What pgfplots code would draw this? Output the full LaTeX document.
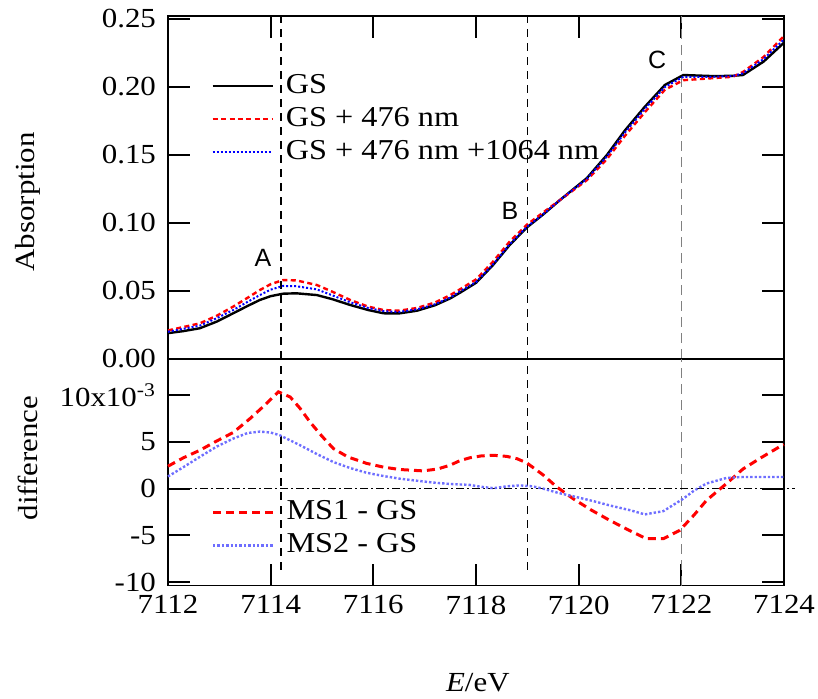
\documentclass[border=0pt]{standalone}
\usepackage{fontspec}
\setmainfont{Liberation Serif}[FakeStretch=1.12]
\newfontfamily\labfont{Liberation Sans}
\usepackage{pgfplots}
\pgfplotsset{compat=1.18}

\pgfplotstableread{
E A
7112.00 0.0190
7112.30 0.0205
7112.62 0.0226
7112.95 0.0275
7113.27 0.0336
7113.55 0.0390
7113.79 0.0434
7114.00 0.0462
7114.24 0.0480
7114.50 0.0483
7114.90 0.0470
7115.20 0.0440
7115.55 0.0397
7115.90 0.0360
7116.20 0.0336
7116.50 0.0335
7116.85 0.0355
7117.20 0.0395
7117.50 0.0446
7117.70 0.0490
7118.00 0.0560
7118.33 0.0690
7118.66 0.0840
7119.00 0.0970
7119.30 0.1060
7119.64 0.1170
7120.16 0.1330
7120.55 0.1500
7120.90 0.1680
7121.29 0.1855
7121.68 0.2015
7122.04 0.2088
7122.62 0.2080
7123.00 0.2082
7123.20 0.2088
7123.60 0.2186
7124.00 0.2326
}\gs

\pgfplotstableread{
E A
7112.00 0.0210
7112.30 0.0235
7112.62 0.0262
7112.95 0.0318
7113.27 0.0385
7113.55 0.0450
7113.79 0.0507
7114.00 0.0550
7114.24 0.0580
7114.50 0.0578
7114.90 0.0544
7115.20 0.0495
7115.55 0.0434
7115.90 0.0385
7116.20 0.0360
7116.50 0.0355
7116.85 0.0375
7117.20 0.0415
7117.50 0.0470
7117.70 0.0515
7118.00 0.0585
7118.33 0.0715
7118.66 0.0865
7119.00 0.0990
7119.30 0.1075
7119.64 0.1170
7120.16 0.1315
7120.55 0.1470
7120.90 0.1640
7121.29 0.1815
7121.68 0.1980
7122.04 0.2050
7122.62 0.2065
7123.00 0.2075
7123.20 0.2110
7123.60 0.2220
7124.00 0.2375
}\gsa

\pgfplotstableread{
E A
7112.00 0.0200
7112.30 0.0222
7112.62 0.0245
7112.95 0.0300
7113.27 0.0360
7113.55 0.0420
7113.79 0.0470
7114.00 0.0510
7114.24 0.0537
7114.50 0.0535
7114.90 0.0512
7115.20 0.0468
7115.55 0.0417
7115.90 0.0375
7116.20 0.0352
7116.50 0.0346
7116.85 0.0365
7117.20 0.0402
7117.50 0.0452
7117.70 0.0500
7118.00 0.0565
7118.33 0.0695
7118.66 0.0845
7119.00 0.0975
7119.30 0.1062
7119.64 0.1170
7120.16 0.1325
7120.55 0.1490
7120.90 0.1665
7121.29 0.1840
7121.68 0.2000
7122.04 0.2075
7122.62 0.2075
7123.00 0.2080
7123.20 0.2100
7123.60 0.2205
7124.00 0.2350
}\gsb

% differences, in units of 1e-3
\pgfplotstableread{
E d
7112.00 2.40
7112.30 3.30
7112.62 4.10
7112.95 5.10
7113.27 6.00
7113.60 7.50
7113.90 9.00
7114.15 10.35
7114.38 9.80
7114.57 8.60
7114.77 7.10
7115.00 5.60
7115.22 4.30
7115.50 3.40
7115.87 2.70
7116.20 2.30
7116.51 2.05
7116.97 1.90
7117.25 2.10
7117.49 2.50
7117.69 3.00
7117.88 3.30
7118.10 3.50
7118.34 3.57
7118.60 3.45
7118.80 3.20
7118.99 2.75
7119.30 1.50
7119.57 0.20
7119.90 -1.10
7120.25 -2.30
7120.61 -3.40
7121.00 -4.50
7121.32 -5.35
7121.65 -5.35
7121.97 -4.45
7122.25 -2.80
7122.49 -1.25
7122.88 0.55
7123.20 2.10
7123.55 3.30
7123.92 4.50
7124.00 4.70
}\msone

\pgfplotstableread{
E d
7112.00 1.30
7112.30 2.30
7112.62 3.40
7112.95 4.50
7113.27 5.35
7113.55 5.95
7113.79 6.10
7114.00 6.00
7114.18 5.70
7114.57 4.65
7114.90 3.70
7115.22 2.85
7115.55 2.20
7115.87 1.70
7116.20 1.35
7116.51 1.07
7116.85 0.85
7117.17 0.65
7117.50 0.50
7117.88 0.40
7118.10 0.20
7118.34 0.05
7118.60 0.25
7118.86 0.35
7119.10 0.25
7119.31 0.00
7119.60 -0.45
7119.96 -0.90
7120.30 -1.35
7120.61 -1.80
7121.00 -2.30
7121.29 -2.75
7121.65 -2.40
7122.03 -1.10
7122.25 -0.20
7122.49 0.55
7122.88 1.15
7123.20 1.25
7123.60 1.25
7124.00 1.25
}\mstwo

\definecolor{lightblue}{RGB}{110,110,255}

\begin{document}
\begin{tikzpicture}
\pgfplotsset{
  panel/.style={
    scale only axis, width=308pt, xmin=7112, xmax=7124,
    axis line style={line width=0.9pt},
    major tick length=11pt,
    xtick style={color=black, line width=1pt},
    ytick style={color=black, line width=1pt},
    xtick={7112,7114,7116,7118,7120,7122,7124},
    tick label style={font=\fontsize{13.8}{16}\selectfont,
      /pgf/number format/assume math mode=true},
    yticklabel style={xshift=-2.5pt},
    label style={font=\fontsize{13.8}{16}\selectfont},
    unbounded coords=jump,
    legend cell align=left,
    legend style={draw=none, fill=none, inner sep=0pt,
      font=\fontsize{14.4}{16}\selectfont,
      nodes={inner sep=1pt, text height=10pt, text depth=3pt},
      row sep=1.5pt, column sep=5pt},
    legend image code/.code={\draw[##1] (0pt,0pt) -- (30pt,0pt);},
  },
  tk/.style={color=black, solid, line width=1pt, forget plot},
}

% upper panel: absorption
\begin{axis}[panel, at={(0pt,113.3pt)}, anchor=south west, height=171.5pt,
  ymin=0, ymax=0.2522,
  ytick={0,0.05,0.1,0.15,0.2,0.25},
  yticklabel style={/pgf/number format/fixed, /pgf/number format/fixed zerofill,
    /pgf/number format/precision=2},
  xtick pos=upper, xticklabels={},
  ylabel={Absorption},
  ylabel style={at={(axis description cs:-0.227,0.458)}, anchor=center},
  legend style={at={(axis description cs:0.07,0.84)}, anchor=north west},
]
% inward tick marks (11pt long)
\addplot[tk] coordinates {(7114,0.2522) (7114,0.2360) (7114,nan)
  (7116,0.2522) (7116,0.2360) (7116,nan) (7118,0.2522) (7118,0.2360) (7118,nan)
  (7120,0.2522) (7120,0.2360) (7120,nan) (7122,0.2522) (7122,0.2360)};
\addplot[tk] coordinates {(7112,0.05) (7112.4286,0.05) (7112,nan)
  (7112,0.10) (7112.4286,0.10) (7112,nan) (7112,0.15) (7112.4286,0.15) (7112,nan)
  (7112,0.20) (7112.4286,0.20) (7112,nan) (7112,0.25) (7112.4286,0.25)};
\addplot[tk] coordinates {(7124,0.05) (7123.5714,0.05) (7124,nan)
  (7124,0.10) (7123.5714,0.10) (7124,nan) (7124,0.15) (7123.5714,0.15) (7124,nan)
  (7124,0.20) (7123.5714,0.20) (7124,nan) (7124,0.25) (7123.5714,0.25)};

\addplot[black, line width=0.6pt, dash pattern=on 4pt off 3pt, forget plot] coordinates {(7114.2,0) (7114.2,0.2522)};
\addplot[black, line width=0.6pt, dash pattern=on 4pt off 3pt, forget plot] coordinates {(7119.0,0) (7119.0,0.2522)};
\addplot[gray, line width=0.6pt, dash pattern=on 5pt off 3pt, forget plot] coordinates {(7122.0,0) (7122.0,0.2522)};

\addplot[black, line width=1.2pt] table[x=E, y=A] {\gs};
\addlegendentry{GS}
\addplot[red, line width=1.2pt, dash pattern=on 2.5pt off 1.7pt] table[x=E, y=A] {\gsa};
\addlegendentry{GS + 476 nm}
\addplot[blue, line width=1pt, densely dotted] table[x=E, y=A] {\gsb};
\addlegendentry{GS + 476 nm +1064 nm}

\node[font=\labfont\fontsize{12.5}{14}\selectfont] at (axis cs:7113.85,0.0743) {A};
\node[font=\labfont\fontsize{12.5}{14}\selectfont] at (axis cs:7118.66,0.1088) {B};
\node[font=\labfont\fontsize{12.5}{14}\selectfont] at (axis cs:7121.53,0.2199) {C};
\end{axis}

% lower panel: difference
\begin{axis}[panel, at={(0pt,0pt)}, anchor=south west, height=113.3pt,
  ymin=-10.36, ymax=13.86, clip=false,
  ytick={-10,-5,0,5,10},
  yticklabels={-10,-5,0,5,{10x10\textsuperscript{-3}}},
  xtick pos=lower,
  xticklabel style={/pgf/number format/1000 sep={}, yshift=-1.5pt},
  xlabel={\textit{E}/eV},
  xlabel style={at={(axis description cs:0.503,0)}, anchor=center, yshift=-48.6pt},
  ylabel={difference},
  ylabel style={at={(axis description cs:-0.227,0.563)}, anchor=center},
  legend style={at={(axis description cs:0.07,0.39)}, anchor=north west},
]
% inward tick marks (11pt long)
\addplot[tk] coordinates {(7114,-10.36) (7114,-8.01) (7114,nan)
  (7116,-10.36) (7116,-8.01) (7116,nan) (7118,-10.36) (7118,-8.01) (7118,nan)
  (7120,-10.36) (7120,-8.01) (7120,nan) (7122,-10.36) (7122,-8.01)};
\addplot[tk] coordinates {(7112,-10) (7112.4286,-10) (7112,nan)
  (7112,-5) (7112.4286,-5) (7112,nan) (7112,0) (7112.4286,0) (7112,nan)
  (7112,5) (7112.4286,5) (7112,nan) (7112,10) (7112.4286,10)};
\addplot[tk] coordinates {(7124,-10) (7123.5714,-10) (7124,nan)
  (7124,-5) (7123.5714,-5) (7124,nan) (7124,0) (7123.5714,0) (7124,nan)
  (7124,5) (7123.5714,5) (7124,nan) (7124,10) (7123.5714,10)};

\addplot[black, line width=0.6pt, dash pattern=on 4pt off 3pt, forget plot] coordinates {(7114.2,-8.65) (7114.2,13.86)};
\addplot[black, line width=0.6pt, dash pattern=on 4pt off 3pt, forget plot] coordinates {(7119.0,-8.65) (7119.0,13.86)};
\addplot[gray, line width=0.6pt, dash pattern=on 5pt off 3pt, forget plot] coordinates {(7122.0,-10.36) (7122.0,13.86)};
\addplot[black, line width=0.6pt, dash pattern=on 4pt off 1.5pt on 1pt off 1.5pt, forget plot] coordinates {(7112,0) (7124.22,0)};

\addplot[red, line width=1.5pt, dash pattern=on 4pt off 2.5pt] table[x=E, y=d] {\msone};
\addlegendentry{MS1 - GS}
\addplot[lightblue, line width=1.2pt, densely dotted] table[x=E, y=d] {\mstwo};
\addlegendentry{MS2 - GS}
\end{axis}

\pgfresetboundingbox
\useasboundingbox (-84pt,-56.65pt) rectangle (325pt,292.8pt);
\end{tikzpicture}
\end{document}
